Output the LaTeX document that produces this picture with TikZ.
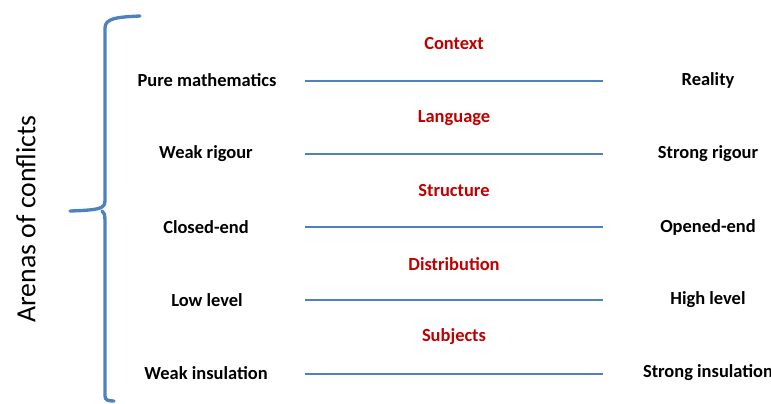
\documentclass[tikz,border=0pt]{standalone}
\usepackage{fontspec}
\setmainfont{Carlito}
\begin{document}
\begin{tikzpicture}[
        x=0.02cm, y=-0.02cm,
        pole/.style={
            font=\fontsize{10.5}{12}\selectfont\bfseries,
            text=black,
            anchor=center
        },
        arena/.style={
            font=\fontsize{10.5}{12}\selectfont\bfseries,
            text=arenared
        },
        scale line/.style={
            draw=lineblue,
            line width=1.2pt
        },
        brace/.style={
            draw=lineblue,
            line width=1.9pt,
            line cap=round
        }
    ]
        \definecolor{arenared}{RGB}{192,0,0}
        \definecolor{lineblue}{RGB}{79,129,189}
        \useasboundingbox (0,0) rectangle (771,403);

        % --- Titre vertical ---
        \node[rotate=90, font=\fontsize{15.8}{18}\selectfont] (title) at (26,219) {Arenas of conflicts};

        % --- Accolade ---
        \draw[brace] (140,16) .. controls (118,17) and (105,18) .. (105,28)
            -- (105,200) .. controls (105,208) and (102,210) .. (70,211);
        \draw[brace] (102,211) .. controls (104,212) and (105,214) .. (105,222)
            -- (105,396) .. controls (105,400) and (108,401) .. (114,401);

        % --- 1. Context ---
        \node[arena] (context) at (454,44) {Context};
        \node[pole] (pure) at (207,80) {Pure mathematics};
        \node[pole] (reality) at (708,80) {Reality};
        \coordinate (ctxL) at (305,81);
        \coordinate (ctxR) at (603,81);
        \draw[scale line] (ctxL) -- (ctxR);

        % --- 2. Language ---
        \node[arena] (language) at (454,118) {Language};
        \node[pole] (weakrig) at (206,154) {Weak rigour};
        \node[pole] (strongrig) at (708,154) {Strong rigour};
        \coordinate (lanL) at (305,154);
        \coordinate (lanR) at (603,154);
        \draw[scale line] (lanL) -- (lanR);

        % --- 3. Structure ---
        \node[arena] (structure) at (454,191) {Structure};
        \node[pole] (closed) at (206,227) {Closed-end};
        \node[pole] (opened) at (708,227) {Opened-end};
        \coordinate (strL) at (305,227);
        \coordinate (strR) at (603,227);
        \draw[scale line] (strL) -- (strR);

        % --- 4. Distribution ---
        \node[arena] (distribution) at (454,264) {Distribution};
        \node[pole] (low) at (207,300) {Low level};
        \node[pole] (high) at (708,300) {High level};
        \coordinate (disL) at (305,300);
        \coordinate (disR) at (603,300);
        \draw[scale line] (disL) -- (disR);

        % --- 5. Subjects ---
        \node[arena] (subjects) at (454,337) {Subjects};
        \node[pole] (weakins) at (206,373) {Weak insulation};
        \node[pole] (strongins) at (708,373) {Strong insulation};
        \coordinate (subL) at (305,374);
        \coordinate (subR) at (603,374);
        \draw[scale line] (subL) -- (subR);
    \end{tikzpicture}
\end{document}
